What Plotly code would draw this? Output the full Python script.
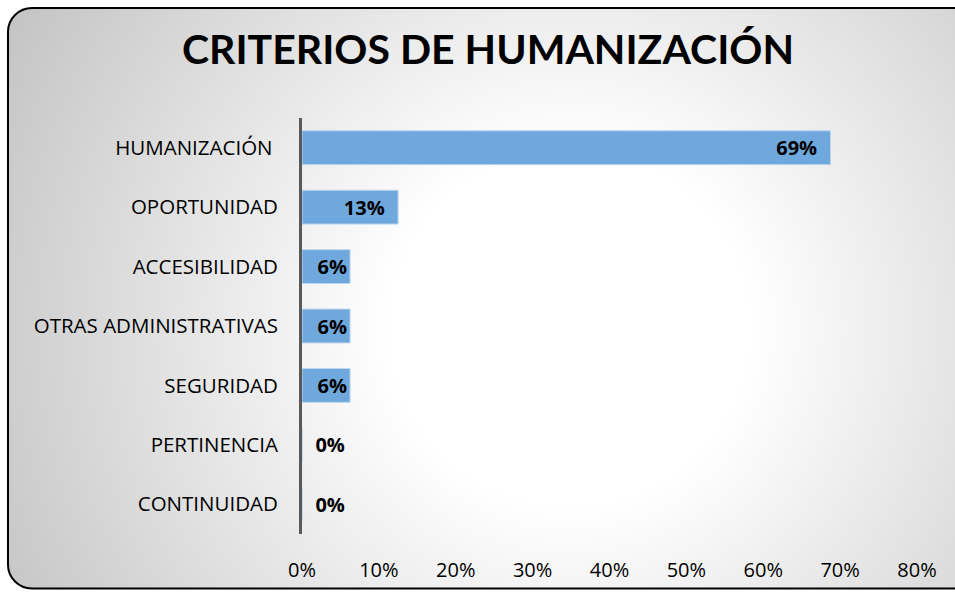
import base64
import plotly.graph_objects as go

categories = ["HUMANIZACIÓN\u00a0", "OPORTUNIDAD", "ACCESIBILIDAD", "OTRAS ADMINISTRATIVAS",
              "SEGURIDAD", "PERTINENCIA", "CONTINUIDAD"]
values = [68.75, 12.5, 6.25, 6.25, 6.25, 0, 0]
labels = ["69%", "13%", "6%", "6%", "6%", "0%", "0%"]
tick_vals = [0, 10, 20, 30, 40, 50, 60, 70, 80]
tick_text = ["0%", "10%", "20%", "30%", "40%", "50%", "60%", "70%", "80%"]

W, H = 955, 595
L, R, T, B = 302, 38, 118, 57
PW, PH = W - L - R, H - T - B

svg = f'''<svg xmlns="http://www.w3.org/2000/svg" width="{W}" height="{H}" viewBox="0 0 {W} {H}">
<defs><radialGradient id="g" gradientUnits="userSpaceOnUse" cx="570" cy="330" r="640">
<stop offset="0" stop-color="#ffffff"/><stop offset="0.28" stop-color="#ffffff"/>
<stop offset="1" stop-color="#c4c4c4"/></radialGradient></defs>
<rect x="0" y="0" width="{W}" height="{H}" fill="#ffffff"/>
<rect x="8" y="7" width="985" height="586" rx="24" ry="24" fill="url(#g)" stroke="#000000" stroke-width="2"/>
</svg>'''
src = "data:image/svg+xml;base64," + base64.b64encode(svg.encode()).decode()

positions = ["outside" if v == 0 else "inside" for v in values]
NB = "\u00a0"
shown = []
for v, t in zip(values, labels):
    if v == 0:
        shown.append(NB * 2 + t)
    elif v > 10:
        shown.append(t + NB * 2)
    else:
        shown.append(t)

fig = go.Figure(go.Bar(
    y=categories, x=values, orientation="h",
    text=shown, textposition=positions, insidetextanchor="end",
    constraintext="none", cliponaxis=False,
    textfont=dict(family="Open Sans", size=20, color="#000000", weight="bold"),
    marker=dict(color="#6FA8DC", line=dict(color="#BDD7EE", width=1)),
))

fig.update_layout(
    width=W, height=H,
    margin=dict(l=L, r=R, t=T, b=B),
    paper_bgcolor="#ffffff", plot_bgcolor="rgba(0,0,0,0)",
    bargap=0.43, showlegend=False,
    title=dict(text="<b>CRITERIOS DE HUMANIZACIÓN</b>", x=0.511, xanchor="center",
               xref="container", yref="container", y=1 - 50 / H, yanchor="middle",
               font=dict(family="Lato", size=41, color="#000000")),
    images=[dict(source=src, xref="paper", yref="paper", x=-L / PW, y=1 + T / PH,
                 sizex=W / PW, sizey=H / PH, xanchor="left", yanchor="top",
                 sizing="stretch", layer="below")],
    font=dict(family="Open Sans", size=21, color="#000000"),
)
fig.update_xaxes(range=[0, 80], tickvals=tick_vals, ticktext=tick_text, showgrid=False,
                 zeroline=False, showline=False, ticks="outside", ticklen=18,
                 tickcolor="rgba(0,0,0,0)", tickfont=dict(size=20))
fig.update_yaxes(categoryorder="array", categoryarray=categories[::-1],
                 showline=True, linecolor="#595959", linewidth=3, showgrid=False,
                 zeroline=False, ticks="outside", ticklen=17, tickcolor="rgba(0,0,0,0)",
                 tickfont=dict(size=20.5))
fig.write_html("out.html", post_script="document.body.style.margin='0';",
               config={"displayModeBar": False})
